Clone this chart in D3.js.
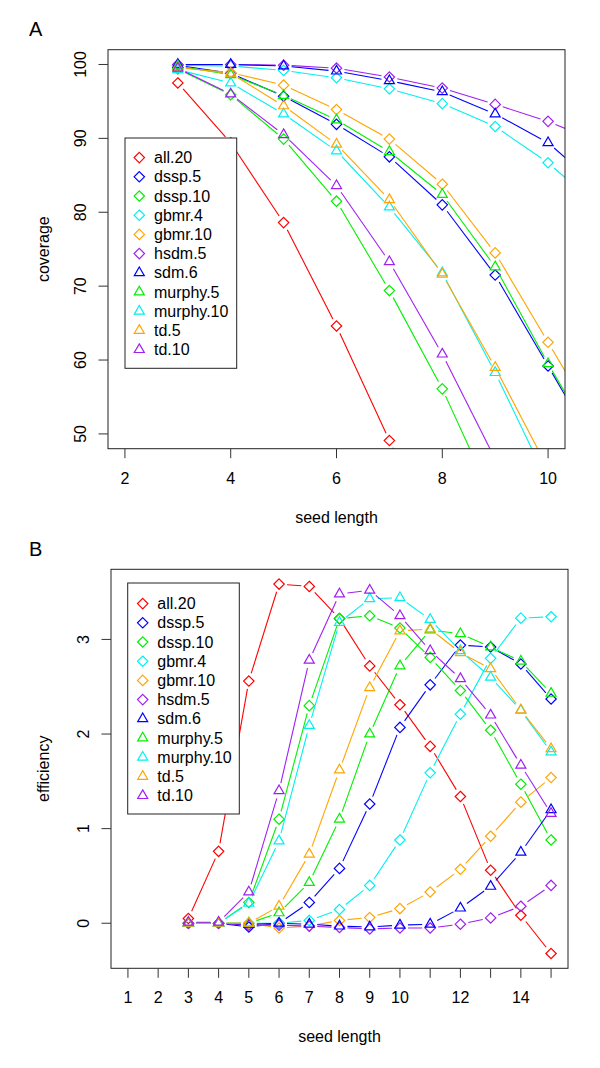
<!DOCTYPE html>
<html><head><meta charset="utf-8">
<script src="https://cdnjs.cloudflare.com/ajax/libs/d3/7.8.5/d3.min.js"></script>
<style>
body{margin:0;background:#fff}
svg{display:block}
text{font-family:"Liberation Sans",Arial,Helvetica,sans-serif;fill:#000}
</style>
</head><body>
<svg id="c" width="600" height="1068"></svg>
<script>
// ---------- data ----------
const seriesNames  = ["all.20","dssp.5","dssp.10","gbmr.4","gbmr.10","hsdm.5","sdm.6","murphy.5","murphy.10","td.5","td.10"];
const seriesColors = ["#FF0000","#0000FF","#00F000","#00F0F0","#FFA500","#A020F0","#0000FF","#00F000","#00F0F0","#FFA500","#A020F0"];
const seriesShapes = ["diamond","diamond","diamond","diamond","diamond","diamond","triangle","triangle","triangle","triangle","triangle"];

// Panel A: coverage vs seed length
const seedLengthA = [3,4,5,6,7,8,9,10,11];
const covAll20   = [97.5, 89.4, 78.6, 64.6, 49.1, 33.5, null, null, null];
const covDssp5   = [99.9, 98.8, 95.7, 91.9, 87.5, 81.0, 71.5, 59.2, 46.8];
const covDssp10  = [99.4, 95.9, 89.9, 81.5, 69.4, 56.1, 40.5, null, null];
const covGbmr4   = [99.9, 99.8, 99.2, 98.2, 96.7, 94.7, 91.6, 86.7, 80.5];
const covGbmr10  = [99.6, 98.9, 97.2, 93.9, 89.9, 83.8, 74.5, 62.4, 50.3];
const covHsdm5   = [100.0, 100.0, 99.9, 99.5, 98.3, 96.8, 94.6, 92.3, 89.3];
const covSdm6    = [100.0, 100.0, 99.8, 99.1, 97.8, 96.3, 93.3, 89.4, 83.2];
const covMurphy5 = [99.8, 98.6, 95.8, 92.5, 88.2, 82.4, 72.6, 59.5, 47.3];
const covMurphy10= [99.3, 97.5, 93.3, 88.3, 80.7, 71.8, 58.3, 43.4, null];
const covTd5     = [99.6, 98.8, 94.4, 89.2, 81.7, 71.6, 59.0, 45.3, null];
const covTd10    = [99.5, 96.0, 90.5, 83.6, 73.3, 60.8, 46.6, null, null];
const xTicksA = [2,4,6,8,10];
const yTicksA = [50,60,70,80,90,100];
const xLimA = [2,10];
const yLimA = [50,100];

// Panel B: efficiency vs seed length
const seedLengthB = [3,4,5,6,7,8,9,10,11,12,13,14,15];
const effAll20   = [0.05, 0.76, 2.56, 3.585, 3.56, 3.22, 2.72, 2.31, 1.87, 1.34, 0.56, 0.085, -0.32];
const effDssp5   = [0, 0, -0.04, 0, 0.22, 0.58, 1.26, 2.07, 2.52, 2.94, 2.92, 2.74, 2.37];
const effDssp10  = [0, 0, 0.22, 1.10, 2.30, 3.22, 3.25, 3.12, 2.81, 2.46, 2.04, 1.47, 0.88];
const effGbmr4   = [0, 0, 0, 0, 0.03, 0.145, 0.40, 0.88, 1.59, 2.21, 2.80, 3.225, 3.24];
const effGbmr10  = [0, 0, 0, -0.05, -0.03, 0.03, 0.06, 0.155, 0.33, 0.57, 0.92, 1.28, 1.54];
const effHsdm5   = [0, 0, -0.02, -0.02, -0.03, -0.045, -0.06, -0.05, -0.05, -0.01, 0.056, 0.18, 0.40];
const effSdm6    = [0, 0, -0.01, 0, -0.01, -0.03, -0.04, -0.02, -0.01, 0.16, 0.39, 0.75, 1.20];
const effMurphy5 = [0, 0, 0, 0.11, 0.43, 1.10, 2.00, 2.72, 3.10, 3.06, 2.92, 2.77, 2.43];
const effMurphy10= [0, 0, 0.21, 0.87, 2.09, 3.18, 3.43, 3.44, 3.21, 2.88, 2.60, 2.25, 1.81];
const effTd5     = [0, 0, 0, 0.18, 0.73, 1.62, 2.49, 3.09, 3.11, 2.86, 2.69, 2.255, 1.845];
const effTd10    = [0.01, 0.01, 0.33, 1.40, 2.78, 3.48, 3.52, 3.25, 2.88, 2.585, 2.20, 1.67, 1.16];
const xTicksB = [1,2,3,4,5,6,7,8,9,10,11,12,13,14,15];
const xTickLabelsB = ["1","2","3","4","5","6","7","8","9","10","","12","","14",""];
const yTicksB = [0,1,2,3];
const xLimB = [1,15];

const coverageSeries = [covAll20,covDssp5,covDssp10,covGbmr4,covGbmr10,covHsdm5,covSdm6,covMurphy5,covMurphy10,covTd5,covTd10];
const efficiencySeries = [effAll20,effDssp5,effDssp10,effGbmr4,effGbmr10,effHsdm5,effSdm6,effMurphy5,effMurphy10,effTd5,effTd10];

// ---------- drawing ----------
const svg = d3.select("#c");
const FONT = 16;
function ext(lim){ const r = lim[1]-lim[0]; return [lim[0]-0.04*r, lim[1]+0.04*r]; }

function symbolPath(shape, cx, cy){
  if (shape === "diamond"){
    const h = 5.2;
    return `M${cx},${cy-h}L${cx+h},${cy}L${cx},${cy+h}L${cx-h},${cy}Z`;
  }
  const w = 5, up = 5.77, dn = 2.89;
  return `M${cx},${cy-up}L${cx+w},${cy+dn}L${cx-w},${cy+dn}Z`;
}

function drawPanel(cfg){
  const {box, xs, series, xLim, yDomain, xTicks, xTickLabels, yTicks, ylab, letter, legendBox, id} = cfg;
  const x = d3.scaleLinear().domain(ext(xLim)).range([box.left, box.right]);
  const y = d3.scaleLinear().domain(yDomain).range([box.bottom, box.top]);
  const g = svg.append("g");

  g.append("clipPath").attr("id", "clip"+id).append("rect")
    .attr("x", box.left).attr("y", box.top)
    .attr("width", box.right-box.left).attr("height", box.bottom-box.top);

  const plot = g.append("g").attr("clip-path", `url(#clip${id})`);
  const GAP = 8;
  series.forEach((vals, si) => {
    const pts = xs.map((xv,i)=> vals[i]==null ? null : [x(xv), y(vals[i])]);
    const sg = plot.append("g");
    for (let i=0;i<pts.length-1;i++){
      const a = pts[i], b = pts[i+1];
      if (!a || !b) continue;
      const dx=b[0]-a[0], dy=b[1]-a[1], L=Math.hypot(dx,dy);
      if (L <= 2*GAP) continue;
      const ux=dx/L, uy=dy/L;
      sg.append("line")
        .attr("x1", a[0]+ux*GAP).attr("y1", a[1]+uy*GAP)
        .attr("x2", b[0]-ux*GAP).attr("y2", b[1]-uy*GAP)
        .attr("stroke", seriesColors[si]).attr("stroke-width", 1.1);
    }
    pts.forEach(p => {
      if (!p) return;
      sg.append("path").attr("d", symbolPath(seriesShapes[si], p[0], p[1]))
        .attr("fill","none").attr("stroke", seriesColors[si]).attr("stroke-width", 1.2);
    });
  });

  // box
  g.append("rect").attr("x", box.left).attr("y", box.top)
    .attr("width", box.right-box.left).attr("height", box.bottom-box.top)
    .attr("fill","none").attr("stroke","#222").attr("stroke-width",1);

  // x axis
  const TICK = 9.5;
  xTicks.forEach((t,i) => {
    g.append("line").attr("x1", x(t)).attr("x2", x(t)).attr("y1", box.bottom).attr("y2", box.bottom+TICK)
      .attr("stroke","#333").attr("stroke-width",1);
    const lab = xTickLabels ? xTickLabels[i] : String(t);
    if (lab) g.append("text").attr("x", x(t)).attr("y", box.bottom+29.5)
      .attr("text-anchor","middle").attr("dominant-baseline","central")
      .attr("font-size", FONT).text(lab);
  });
  // y axis
  yTicks.forEach(t => {
    g.append("line").attr("x1", box.left-TICK).attr("x2", box.left).attr("y1", y(t)).attr("y2", y(t))
      .attr("stroke","#333").attr("stroke-width",1);
    g.append("text").attr("transform", `translate(${box.left-27.5},${y(t)}) rotate(-90)`)
      .attr("text-anchor","middle").attr("dominant-baseline","central")
      .attr("font-size", FONT).text(String(t));
  });
  // axis titles
  g.append("text").attr("x", (box.left+box.right)/2).attr("y", box.bottom+68.5)
    .attr("text-anchor","middle").attr("dominant-baseline","central")
    .attr("font-size", FONT).text("seed length");
  g.append("text").attr("transform", `translate(43.5,${(box.top+box.bottom)/2}) rotate(-90)`)
    .attr("text-anchor","middle").attr("dominant-baseline","central")
    .attr("font-size", FONT).text(ylab);
  // panel letter
  g.append("text").attr("x", 29).attr("y", letter.y).attr("font-size", 20).text(letter.t);

  // legend
  const lg = g.append("g");
  lg.append("rect").attr("x", legendBox.x).attr("y", legendBox.y)
    .attr("width", legendBox.w).attr("height", legendBox.h)
    .attr("fill","#fff").attr("stroke","#222").attr("stroke-width",1);
  seriesNames.forEach((n,i) => {
    const cy = legendBox.y0 + i*19.2;
    lg.append("path").attr("d", symbolPath(seriesShapes[i], legendBox.sx, cy))
      .attr("fill","none").attr("stroke", seriesColors[i]).attr("stroke-width",1.2);
    lg.append("text").attr("x", legendBox.tx).attr("y", cy)
      .attr("dominant-baseline","central").attr("font-size", FONT).text(n);
  });
}

drawPanel({
  id:"A",
  box:{left:108, right:565, top:49.7, bottom:448.7},
  xs: seedLengthA, series: coverageSeries,
  xLim: xLimA, yDomain: ext(yLimA),
  xTicks: xTicksA, yTicks: yTicksA,
  ylab: "coverage", letter:{t:"A", y:36},
  legendBox:{x:125, y:138, w:111.7, h:230.3, sx:139.3, tx:154, y0:157.6}
});

const allEff = efficiencySeries.flat().filter(v=>v!=null);
drawPanel({
  id:"B",
  box:{left:111, right:568, top:569.3, bottom:968.3},
  xs: seedLengthB, series: efficiencySeries,
  xLim: xLimB, yDomain: ext(d3.extent(allEff)),
  xTicks: xTicksB, xTickLabels: xTickLabelsB, yTicks: yTicksB,
  ylab: "efficiency", letter:{t:"B", y:556},
  legendBox:{x:127.7, y:583, w:111.6, h:231, sx:142.7, tx:157.3, y0:603.6}
});
</script>
</body></html>
